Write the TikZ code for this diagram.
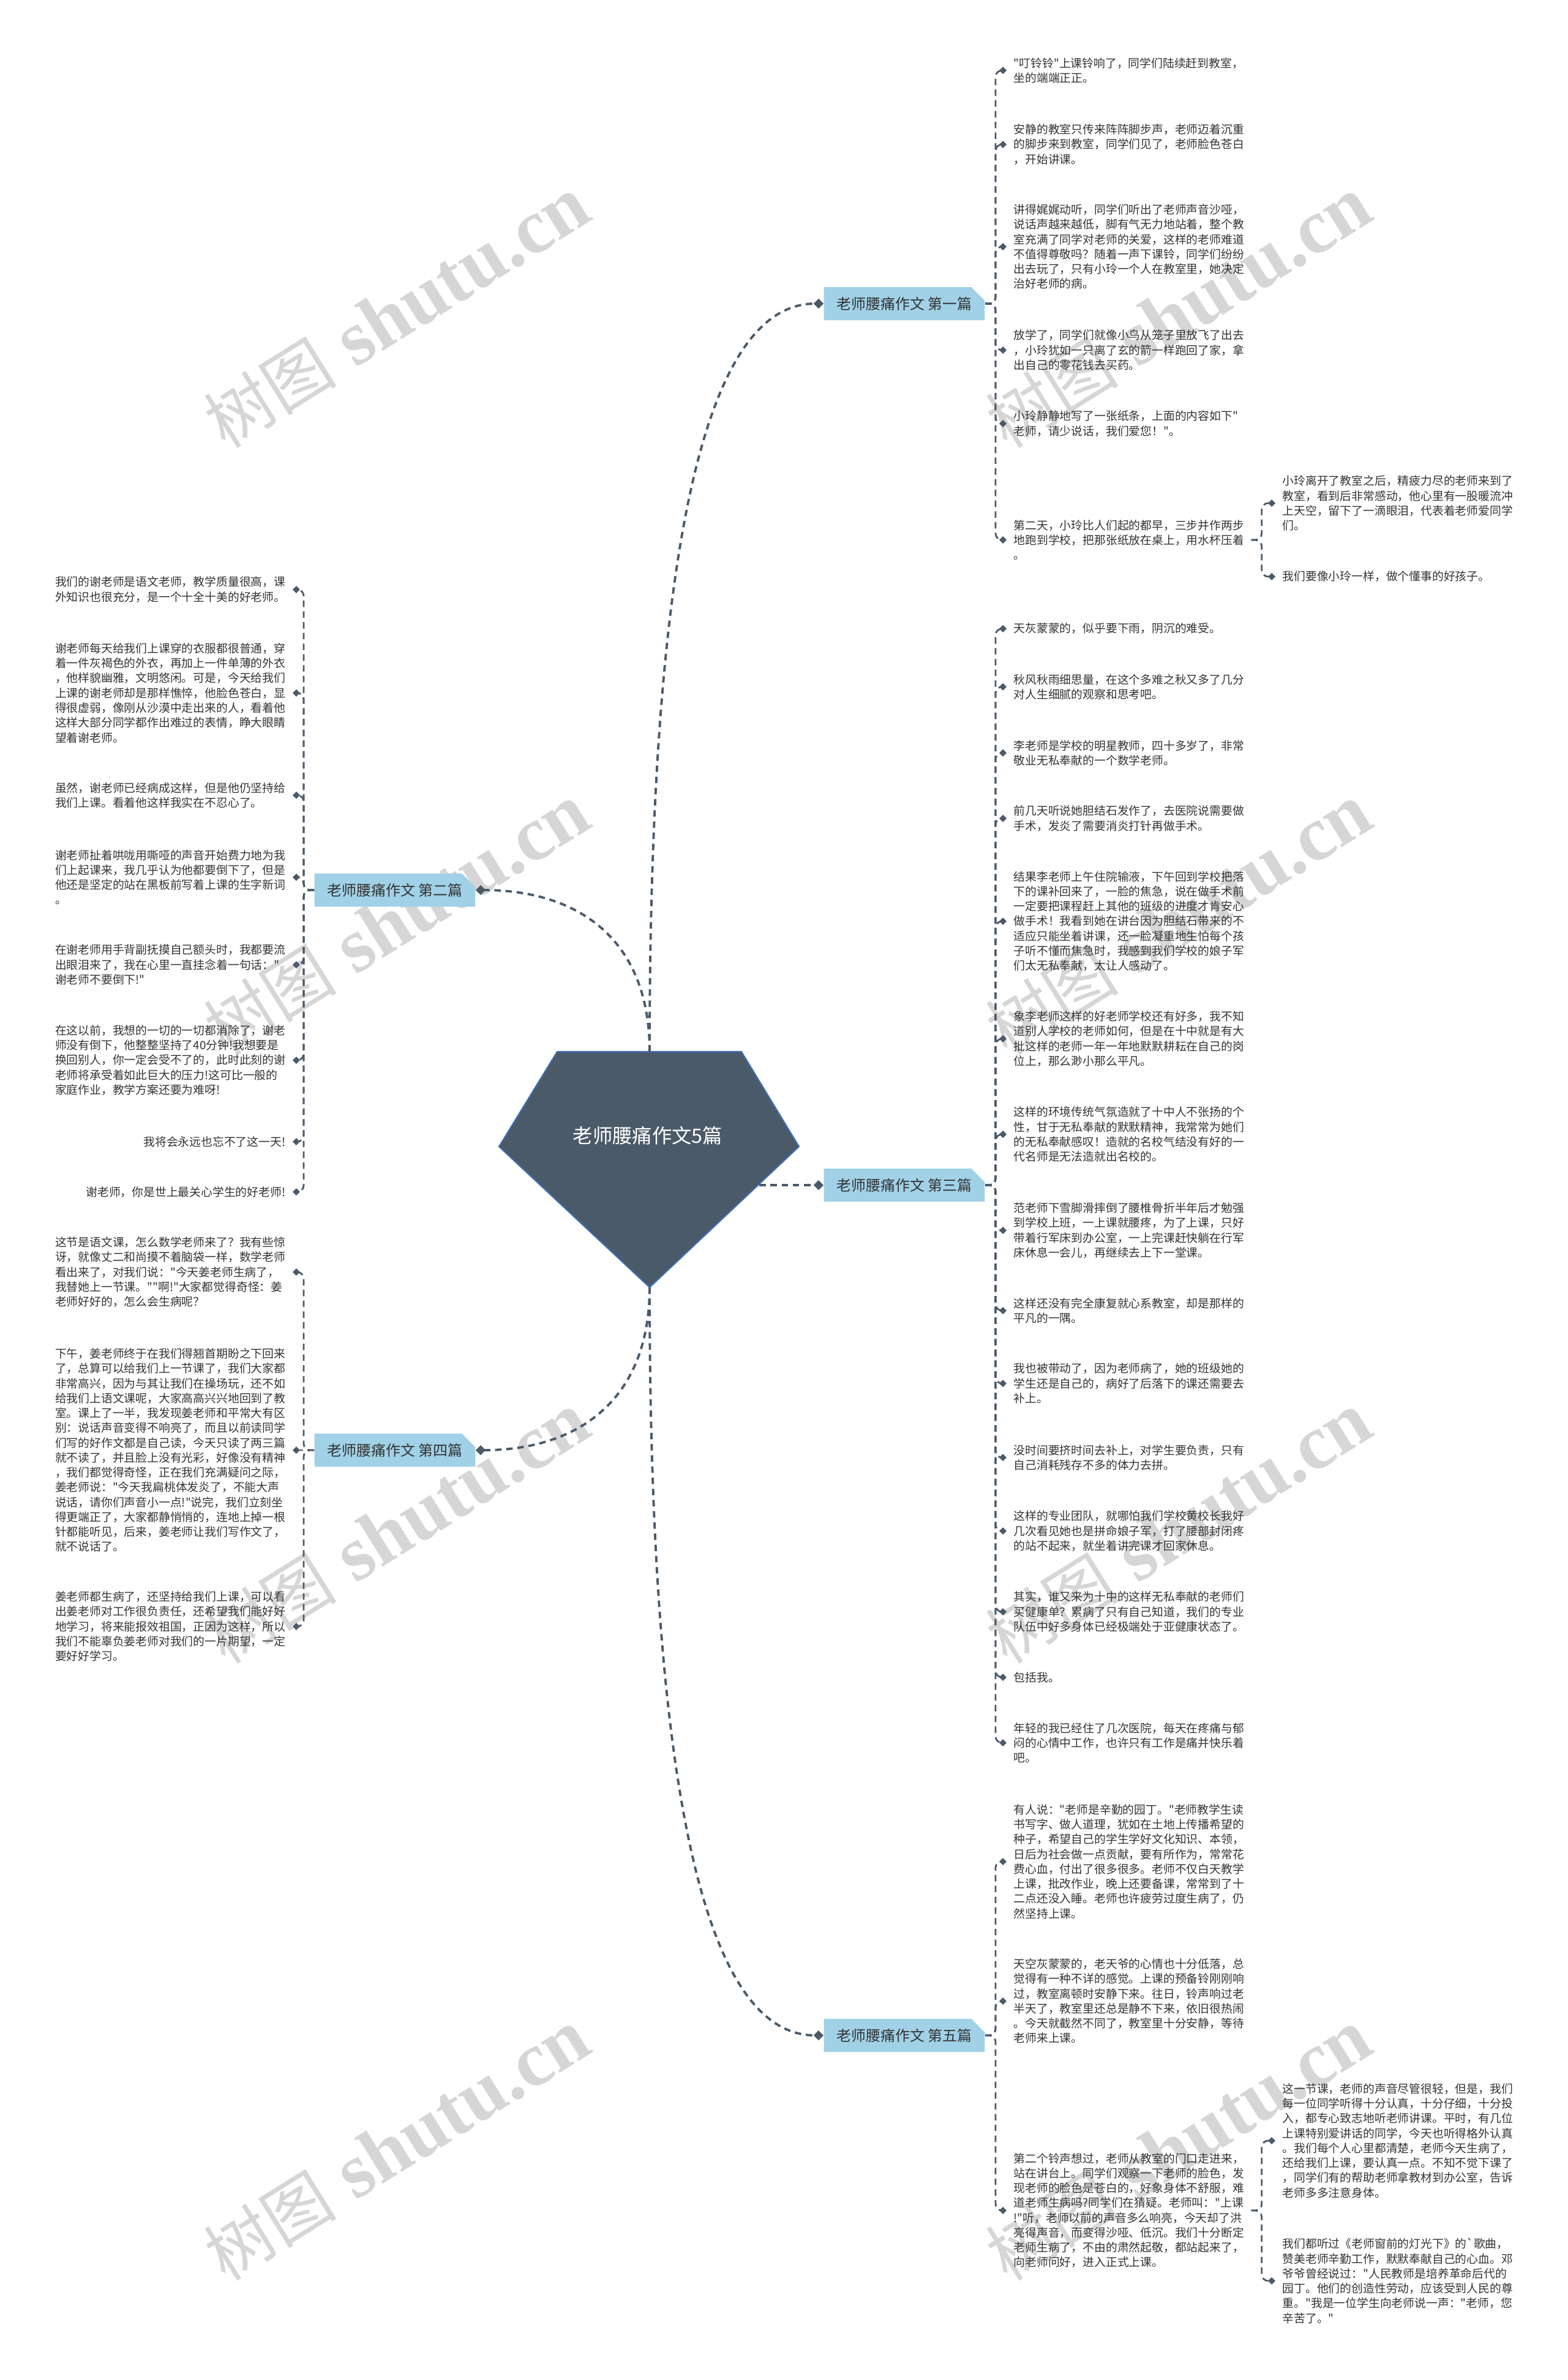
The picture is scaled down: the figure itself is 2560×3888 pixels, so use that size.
\documentclass[tikz,border=0pt]{standalone}
\usepackage{fontspec}
\newfontfamily\zhfont{Noto Sans CJK SC}
\newfontfamily\wmfont{Liberation Serif}
\usetikzlibrary{arrows.meta, shapes.misc}
\definecolor{slate}{HTML}{4B5A69}
\definecolor{rimblue}{HTML}{3F6FB0}
\definecolor{topicblue}{HTML}{A0D1E7}
\definecolor{inktext}{HTML}{333333}
\definecolor{markgray}{HTML}{D6D6D6}
\tikzstyle{hubshape}=[fill=slate, draw=rimblue, line width=0.6pt]
\tikzstyle{hubtext}=[text=white, inner sep=0pt, font=\zhfont\fontsize{9.2}{11}\selectfont]
\tikzstyle{essay}=[chamfered rectangle, chamfered rectangle corners=north east, chamfered rectangle xsep=0.11cm, chamfered rectangle ysep=0.11cm, fill=topicblue, text=inktext, minimum width=2.48cm, minimum height=0.54cm, inner xsep=0.1cm, inner ysep=0pt, font=\zhfont\fontsize{6.8}{8}\selectfont]
\tikzstyle{para}=[align=left, inner xsep=0.11cm, inner ysep=0pt, text=inktext, font=\zhfont\fontsize{5.35}{6.9}\selectfont]
\tikzstyle{trunkline}=[draw=slate, line width=1.1pt, dash pattern=on 3pt off 2.2pt, -{Diamond[length=4.6pt,width=4.6pt]}]
\tikzstyle{paraline}=[draw=slate, line width=0.8pt, dash pattern=on 3pt off 2pt, rounded corners=3pt, -{Diamond[length=3.4pt,width=3.4pt]}]
\tikzstyle{wm}=[text=markgray, rotate=32, inner sep=0pt]

\begin{document}
\begin{tikzpicture}[x=0.01cm,y=-0.01cm]
\path[fill=white] (0,0) rectangle (2560,3888);
\useasboundingbox (0,0) rectangle (2560,3888);
\foreach \wx/\wy in {648/511,1925/511,648/1503,1925/1503,648/2497,1925/2497,648/3505,1925/3505}
  \node[wm] at (\wx,\wy) {\zhfont\fontsize{31}{31}\selectfont 树图\hspace{0.3em}\wmfont\bfseries\fontsize{36}{36}\selectfont shutu.cn};

\filldraw[hubshape] (910,1718) -- (1211,1718) -- (1305,1873) -- (1061,2103) -- (815,1873) -- cycle;
\node[hubtext] (hub) at (1058,1855) {老师腰痛作文5篇};
\coordinate (hubtop) at (1061,1718);
\coordinate (hubbot) at (1061,2103);
\coordinate (hubright) at (1240,1936);

\node[essay] (s1) at (1477,496) {老师腰痛作文 第一篇};
\node[essay] (s2) at (645,1454) {老师腰痛作文 第二篇};
\node[essay] (s3) at (1477,1936) {老师腰痛作文 第三篇};
\node[essay] (s4) at (645,2369) {老师腰痛作文 第四篇};
\node[essay] (s5) at (1477,3325) {老师腰痛作文 第五篇};

\draw[trunkline] (hubtop) to[out=90,in=180,out distance=9.6cm,in distance=1.6cm] (s1.west);
\draw[trunkline] (hubtop) to[out=90,in=0,out distance=1.9cm,in distance=1.6cm] (s2.east);
\draw[trunkline] (hubright) -- (s3.west);
\draw[trunkline] (hubbot) to[out=-90,in=0,out distance=1.9cm,in distance=1.6cm] (s4.east);
\draw[trunkline] (hubbot) to[out=-90,in=180,out distance=9.6cm,in distance=1.6cm] (s5.west);

% 第一篇
\node[para, anchor=west] (s1a) at (1644,115) {"叮铃铃"上课铃响了，同学们陆续赶到教室，\\坐的端端正正。};
\node[para, anchor=west] (s1b) at (1644,236) {安静的教室只传来阵阵脚步声，老师迈着沉重\\的脚步来到教室，同学们见了，老师脸色苍白\\，开始讲课。};
\node[para, anchor=west] (s1c) at (1644,403) {讲得娓娓动听，同学们听出了老师声音沙哑，\\说话声越来越低，脚有气无力地站着，整个教\\室充满了同学对老师的关爱，这样的老师难道\\不值得尊敬吗？随着一声下课铃，同学们纷纷\\出去玩了，只有小玲一个人在教室里，她决定\\治好老师的病。};
\node[para, anchor=west] (s1d) at (1644,572) {放学了，同学们就像小鸟从笼子里放飞了出去\\，小玲犹如一只离了玄的箭一样跑回了家，拿\\出自己的零花钱去买药。};
\node[para, anchor=west] (s1e) at (1644,692) {小玲静静地写了一张纸条，上面的内容如下"\\老师，请少说话，我们爱您！"。};
\node[para, anchor=west] (s1f) at (1644,882) {第二天，小玲比人们起的都早，三步并作两步\\地跑到学校，把那张纸放在桌上，用水杯压着\\。};
\node[para, anchor=west] (s1f1) at (2083,822) {小玲离开了教室之后，精疲力尽的老师来到了\\教室，看到后非常感动，他心里有一股暖流冲\\上天空，留下了一滴眼泪，代表着老师爱同学\\们。};
\node[para, anchor=west] (s1f2) at (2083,942) {我们要像小玲一样，做个懂事的好孩子。};
\draw[paraline] (s1.east) -- ++(17,0) |- (s1a.west);
\draw[paraline] (s1.east) -- ++(17,0) |- (s1b.west);
\draw[paraline] (s1.east) -- ++(17,0) |- (s1c.west);
\draw[paraline] (s1.east) -- ++(17,0) |- (s1d.west);
\draw[paraline] (s1.east) -- ++(17,0) |- (s1e.west);
\draw[paraline] (s1.east) -- ++(17,0) |- (s1f.west);
\draw[paraline] (s1f.east) -- ++(17,0) |- (s1f1.west);
\draw[paraline] (s1f.east) -- ++(17,0) |- (s1f2.west);

% 第二篇
\node[para, anchor=east] (s2a) at (478,963) {我们的谢老师是语文老师，教学质量很高，课\\外知识也很充分，是一个十全十美的好老师。};
\node[para, anchor=east] (s2b) at (478,1132) {谢老师每天给我们上课穿的衣服都很普通，穿\\着一件灰褐色的外衣，再加上一件单薄的外衣\\，他样貌幽雅，文明悠闲。可是，今天给我们\\上课的谢老师却是那样憔悴，他脸色苍白，显\\得很虚弱，像刚从沙漠中走出来的人，看着他\\这样大部分同学都作出难过的表情，睁大眼睛\\望着谢老师。};
\node[para, anchor=east] (s2c) at (478,1299) {虽然，谢老师已经病成这样，但是他仍坚持给\\我们上课。看着他这样我实在不忍心了。};
\node[para, anchor=east] (s2d) at (478,1433) {谢老师扯着哄咙用嘶哑的声音开始费力地为我\\们上起课来，我几乎认为他都要倒下了，但是\\他还是坚定的站在黑板前写着上课的生字新词\\。};
\node[para, anchor=east] (s2e) at (478,1576) {在谢老师用手背副抚摸自己额头时，我都要流\\出眼泪来了，我在心里一直挂念着一句话："\\谢老师不要倒下!"};
\node[para, anchor=east] (s2f) at (478,1732) {在这以前，我想的一切的一切都消除了，谢老\\师没有倒下，他整整坚持了40分钟!我想要是\\换回别人，你一定会受不了的，此时此刻的谢\\老师将承受着如此巨大的压力!这可比一般的\\家庭作业，教学方案还要为难呀!};
\node[para, anchor=east] (s2g) at (478,1865) {我将会永远也忘不了这一天!};
\node[para, anchor=east] (s2h) at (478,1947) {谢老师，你是世上最关心学生的好老师!};
\draw[paraline] (s2.west) -- ++(-17,0) |- (s2a.east);
\draw[paraline] (s2.west) -- ++(-17,0) |- (s2b.east);
\draw[paraline] (s2.west) -- ++(-17,0) |- (s2c.east);
\draw[paraline] (s2.west) -- ++(-17,0) |- (s2d.east);
\draw[paraline] (s2.west) -- ++(-17,0) |- (s2e.east);
\draw[paraline] (s2.west) -- ++(-17,0) |- (s2f.east);
\draw[paraline] (s2.west) -- ++(-17,0) |- (s2g.east);
\draw[paraline] (s2.west) -- ++(-17,0) |- (s2h.east);

% 第三篇
\node[para, anchor=west] (s3a) at (1644,1027) {天灰蒙蒙的，似乎要下雨，阴沉的难受。};
\node[para, anchor=west] (s3b) at (1644,1122) {秋风秋雨细思量，在这个多难之秋又多了几分\\对人生细腻的观察和思考吧。};
\node[para, anchor=west] (s3c) at (1644,1230) {李老师是学校的明星教师，四十多岁了，非常\\敬业无私奉献的一个数学老师。};
\node[para, anchor=west] (s3d) at (1644,1337) {前几天听说她胆结石发作了，去医院说需要做\\手术，发炎了需要消炎打针再做手术。};
\node[para, anchor=west] (s3e) at (1644,1505) {结果李老师上午住院输液，下午回到学校把落\\下的课补回来了，一脸的焦急，说在做手术前\\一定要把课程赶上其他的班级的进度才肯安心\\做手术！我看到她在讲台因为胆结石带来的不\\适应只能坐着讲课，还一脸凝重地生怕每个孩\\子听不懂而焦急时，我感到我们学校的娘子军\\们太无私奉献，太让人感动了。};
\node[para, anchor=west] (s3f) at (1644,1697) {象李老师这样的好老师学校还有好多，我不知\\道别人学校的老师如何，但是在十中就是有大\\批这样的老师一年一年地默默耕耘在自己的岗\\位上，那么渺小那么平凡。};
\node[para, anchor=west] (s3g) at (1644,1853) {这样的环境传统气氛造就了十中人不张扬的个\\性，甘于无私奉献的默默精神，我常常为她们\\的无私奉献感叹！造就的名校气结没有好的一\\代名师是无法造就出名校的。};
\node[para, anchor=west] (s3h) at (1644,2010) {范老师下雪脚滑摔倒了腰椎骨折半年后才勉强\\到学校上班，一上课就腰疼，为了上课，只好\\带着行军床到办公室，一上完课赶快躺在行军\\床休息一会儿，再继续去上下一堂课。};
\node[para, anchor=west] (s3i) at (1644,2141) {这样还没有完全康复就心系教室，却是那样的\\平凡的一隅。};
\node[para, anchor=west] (s3j) at (1644,2260) {我也被带动了，因为老师病了，她的班级她的\\学生还是自己的，病好了后落下的课还需要去\\补上。};
\node[para, anchor=west] (s3k) at (1644,2381) {没时间要挤时间去补上，对学生要负责，只有\\自己消耗残存不多的体力去拼。};
\node[para, anchor=west] (s3l) at (1644,2501) {这样的专业团队，就哪怕我们学校黄校长我好\\几次看见她也是拼命娘子军，打了腰部封闭疼\\的站不起来，就坐着讲完课才回家休息。};
\node[para, anchor=west] (s3m) at (1644,2633) {其实，谁又来为十中的这样无私奉献的老师们\\买健康单？累病了只有自己知道，我们的专业\\队伍中好多身体已经极端处于亚健康状态了。};
\node[para, anchor=west] (s3n) at (1644,2740) {包括我。};
\node[para, anchor=west] (s3o) at (1644,2847) {年轻的我已经住了几次医院，每天在疼痛与郁\\闷的心情中工作，也许只有工作是痛并快乐着\\吧。};
\draw[paraline] (s3.east) -- ++(17,0) |- (s3a.west);
\draw[paraline] (s3.east) -- ++(17,0) |- (s3b.west);
\draw[paraline] (s3.east) -- ++(17,0) |- (s3c.west);
\draw[paraline] (s3.east) -- ++(17,0) |- (s3d.west);
\draw[paraline] (s3.east) -- ++(17,0) |- (s3e.west);
\draw[paraline] (s3.east) -- ++(17,0) |- (s3f.west);
\draw[paraline] (s3.east) -- ++(17,0) |- (s3g.west);
\draw[paraline] (s3.east) -- ++(17,0) |- (s3h.west);
\draw[paraline] (s3.east) -- ++(17,0) |- (s3i.west);
\draw[paraline] (s3.east) -- ++(17,0) |- (s3j.west);
\draw[paraline] (s3.east) -- ++(17,0) |- (s3k.west);
\draw[paraline] (s3.east) -- ++(17,0) |- (s3l.west);
\draw[paraline] (s3.east) -- ++(17,0) |- (s3m.west);
\draw[paraline] (s3.east) -- ++(17,0) |- (s3n.west);
\draw[paraline] (s3.east) -- ++(17,0) |- (s3o.west);

% 第四篇
\node[para, anchor=east] (s4a) at (478,2078) {这节是语文课，怎么数学老师来了？我有些惊\\讶，就像丈二和尚摸不着脑袋一样，数学老师\\看出来了，对我们说："今天姜老师生病了，\\我替她上一节课。""啊!"大家都觉得奇怪：姜\\老师好好的，怎么会生病呢？};
\node[para, anchor=east] (s4b) at (478,2369) {下午，姜老师终于在我们得翘首期盼之下回来\\了，总算可以给我们上一节课了，我们大家都\\非常高兴，因为与其让我们在操场玩，还不如\\给我们上语文课呢，大家高高兴兴地回到了教\\室。课上了一半，我发现姜老师和平常大有区\\别：说话声音变得不响亮了，而且以前读同学\\们写的好作文都是自己读，今天只读了两三篇\\就不读了，并且脸上没有光彩，好像没有精神\\，我们都觉得奇怪，正在我们充满疑问之际，\\姜老师说："今天我扁桃体发炎了，不能大声\\说话，请你们声音小一点!"说完，我们立刻坐\\得更端正了，大家都静悄悄的，连地上掉一根\\针都能听见，后来，姜老师让我们写作文了，\\就不说话了。};
\node[para, anchor=east] (s4c) at (478,2657) {姜老师都生病了，还坚持给我们上课，可以看\\出姜老师对工作很负责任，还希望我们能好好\\地学习，将来能报效祖国，正因为这样，所以\\我们不能辜负姜老师对我们的一片期望，一定\\要好好学习。};
\draw[paraline] (s4.west) -- ++(-17,0) |- (s4a.east);
\draw[paraline] (s4.west) -- (s4b.east);
\draw[paraline] (s4.west) -- ++(-17,0) |- (s4c.east);

% 第五篇
\node[para, anchor=west] (s5a) at (1644,3041) {有人说："老师是辛勤的园丁。"老师教学生读\\书写字、做人道理，犹如在土地上传播希望的\\种子，希望自己的学生学好文化知识、本领，\\日后为社会做一点贡献，要有所作为，常常花\\费心血，付出了很多很多。老师不仅白天教学\\上课，批改作业，晚上还要备课，常常到了十\\二点还没入睡。老师也许疲劳过度生病了，仍\\然坚持上课。};
\node[para, anchor=west] (s5b) at (1644,3269) {天空灰蒙蒙的，老天爷的心情也十分低落，总\\觉得有一种不详的感觉。上课的预备铃刚刚响\\过，教室离顿时安静下来。往日，铃声响过老\\半天了，教室里还总是静不下来，依旧很热闹\\。今天就截然不同了，教室里十分安静，等待\\老师来上课。};
\node[para, anchor=west] (s5c) at (1644,3611) {第二个铃声想过，老师从教室的门口走进来，\\站在讲台上。同学们观察一下老师的脸色，发\\现老师的脸色是苍白的，好象身体不舒服，难\\道老师生病吗?同学们在猜疑。老师叫："上课\\!"听，老师以前的声音多么响亮，今天却了洪\\亮得声音，而变得沙哑、低沉。我们十分断定\\老师生病了，不由的肃然起敬，都站起来了，\\向老师问好，进入正式上课。};
\node[para, anchor=west] (s5c1) at (2083,3497) {这一节课，老师的声音尽管很轻，但是，我们\\每一位同学听得十分认真，十分仔细，十分投\\入，都专心致志地听老师讲课。平时，有几位\\上课特别爱讲话的同学，今天也听得格外认真\\。我们每个人心里都清楚，老师今天生病了，\\还给我们上课，要认真一点。不知不觉下课了\\，同学们有的帮助老师拿教材到办公室，告诉\\老师多多注意身体。};
\node[para, anchor=west] (s5c2) at (2083,3726) {我们都听过《老师窗前的灯光下》的`歌曲，\\赞美老师辛勤工作，默默奉献自己的心血。邓\\爷爷曾经说过："人民教师是培养革命后代的\\园丁。他们的创造性劳动，应该受到人民的尊\\重。"我是一位学生向老师说一声："老师，您\\辛苦了。"};
\draw[paraline] (s5.east) -- ++(17,0) |- (s5a.west);
\draw[paraline] (s5.east) -- ++(17,0) |- (s5b.west);
\draw[paraline] (s5.east) -- ++(17,0) |- (s5c.west);
\draw[paraline] (s5c.east) -- ++(17,0) |- (s5c1.west);
\draw[paraline] (s5c.east) -- ++(17,0) |- (s5c2.west);
\end{tikzpicture}
\end{document}
